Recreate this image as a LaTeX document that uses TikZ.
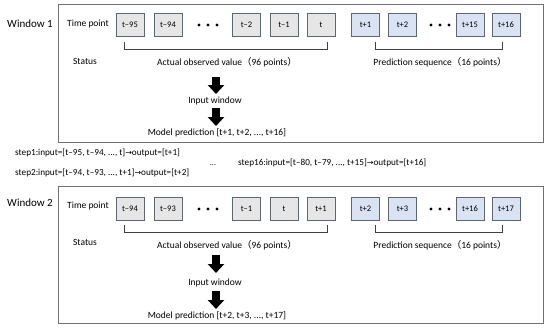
\documentclass[tikz,border=0pt]{standalone}
\usepackage{fontspec}
\setmainfont{Carlito}
\newfontfamily\cjkf{Noto Sans CJK SC}
\newfontfamily\symf{DejaVu Sans}
\usetikzlibrary{arrows.meta}
\definecolor{framegray}{HTML}{707070}
\definecolor{boxborder}{HTML}{5E6670}
\definecolor{boxgray}{HTML}{E6E6E6}
\definecolor{boxblue}{HTML}{DAE3F3}
\begin{document}
\begin{tikzpicture}[x=1pt,y=-1pt,
  winframe/.style={draw=framegray, line width=0.9pt},
  tbox/.style={draw=boxborder, line width=0.7pt, fill=boxgray, minimum width=28pt, minimum height=23pt, inner sep=0pt, font=\fontsize{8.5}{10}\selectfont},
  pbox/.style={tbox, fill=boxblue},
  lbl/.style={font=\fontsize{9.5}{11}\selectfont, inner sep=0pt},
  winlbl/.style={font=\fontsize{11}{13}\selectfont, inner sep=0pt},
  steplbl/.style={font=\fontsize{9.2}{11}\selectfont, inner sep=0pt, anchor=west},
  bigarrow/.style={line width=8pt, -{Triangle[width=16pt,length=9pt]}},
  brack/.style={draw=black!75, line width=0.6pt},
  dot/.style={fill=black}
]
\useasboundingbox (0,0) rectangle (550,333);

% ---------- Window 1 ----------
\draw[winframe] (58,4) rectangle (543,142);
\node[winlbl] (w1) at (30,24) {Window 1};
\node[lbl] (tp1) at (88,24) {Time point};
\node[tbox] (a1) at (130,24.5) {t–95};
\node[tbox] (a2) at (168,24.5) {t–94};
\node[tbox] (a3) at (246.5,24.5) {t–2};
\node[tbox] (a4) at (284,24.5) {t–1};
\node[tbox] (a5) at (321,24.5) {t};
\node[pbox] (p1) at (365.5,24.5) {t+1};
\node[pbox] (p2) at (402.5,24.5) {t+2};
\node[pbox] (p3) at (470,24.5) {t+15};
\node[pbox] (p4) at (506,24.5) {t+16};
\foreach \x in {199,208,217} \fill[dot] (\x,25) circle (1.6pt);
\foreach \x in {431,440,449} \fill[dot] (\x,25) circle (1.6pt);
\coordinate (ba1) at (124,42); \coordinate (ba2) at (327,42);
\draw[brack] (ba1) -- ++(0,7) -| (ba2);
\coordinate (bp1) at (375,42); \coordinate (bp2) at (502,42);
\draw[brack] (bp1) -- ++(0,7) -| (bp2);
\node[lbl] (st1) at (85,61) {Status};
\node[lbl] (av1) at (227,62) {Actual observed value{\cjkf （}96 points{\cjkf ）}};
\node[lbl] (ps1) at (440,62) {Prediction sequence{\cjkf （}16 points{\cjkf ）}};
\node[lbl] (iw1) at (215,101) {Input window};
\node[lbl] (mp1) at (217,133) {Model prediction [t+1, t+2, ..., t+16]};
\coordinate (ar1s) at (216,77); \coordinate (ar1e) at (216,94);
\coordinate (ar2s) at (216,108); \coordinate (ar2e) at (216,126);
\draw[bigarrow] (ar1s) -- (ar1e);
\draw[bigarrow] (ar2s) -- (ar2e);

% ---------- steps ----------
\node[steplbl] (s1) at (15,153) {step1:input=[t–95, t–94, ..., t]{\symf\fontsize{8}{10}\selectfont →}output=[t+1]};
\node[steplbl] (s2) at (15,173) {step2:input=[t–94, t–93, ..., t+1]{\symf\fontsize{8}{10}\selectfont →}output=[t+2]};
\node[lbl, font=\fontsize{8}{10}\selectfont] (sd) at (213,165) {...};
\node[steplbl] (s16) at (238,163) {step16:input=[t–80, t–79, ..., t+15]{\symf\fontsize{8}{10}\selectfont →}output=[t+16]};

% ---------- Window 2 ----------
\draw[winframe] (58,186) rectangle (543,323);
\node[winlbl] (w2) at (30,203) {Window 2};
\node[lbl] (tp2) at (88,206) {Time point};
\node[tbox] (c1) at (130,208.5) {t–94};
\node[tbox] (c2) at (168,208.5) {t–93};
\node[tbox] (c3) at (246.5,208.5) {t–1};
\node[tbox] (c4) at (284,208.5) {t};
\node[tbox] (c5) at (321,208.5) {t+1};
\node[pbox] (q1) at (365.5,208.5) {t+2};
\node[pbox] (q2) at (402.5,208.5) {t+3};
\node[pbox] (q3) at (470,208.5) {t+16};
\node[pbox] (q4) at (506,208.5) {t+17};
\foreach \x in {199,208,217} \fill[dot] (\x,209) circle (1.6pt);
\foreach \x in {431,440,449} \fill[dot] (\x,209) circle (1.6pt);
\coordinate (bc1) at (124,225); \coordinate (bc2) at (327,225);
\draw[brack] (bc1) -- ++(0,7) -| (bc2);
\coordinate (bq1) at (375,225); \coordinate (bq2) at (502,225);
\draw[brack] (bq1) -- ++(0,7) -| (bq2);
\node[lbl] (st2) at (85,242) {Status};
\node[lbl] (av2) at (227,245) {Actual observed value{\cjkf （}96 points{\cjkf ）}};
\node[lbl] (ps2) at (440,245) {Prediction sequence{\cjkf （}16 points{\cjkf ）}};
\node[lbl] (iw2) at (215,283) {Input window};
\node[lbl] (mp2) at (217,316) {Model prediction [t+2, t+3, ..., t+17]};
\coordinate (ar3s) at (216,255); \coordinate (ar3e) at (216,273);
\coordinate (ar4s) at (216,291); \coordinate (ar4e) at (216,309);
\draw[bigarrow] (ar3s) -- (ar3e);
\draw[bigarrow] (ar4s) -- (ar4e);
\end{tikzpicture}
\end{document}
